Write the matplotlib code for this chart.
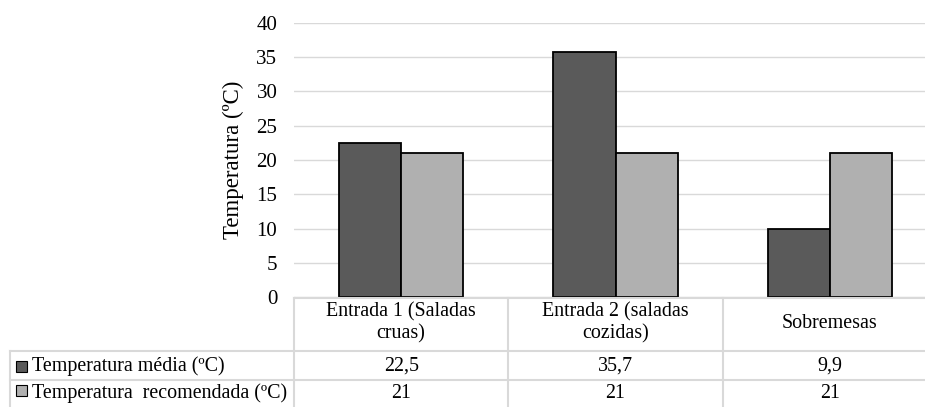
import matplotlib.pyplot as plt
import matplotlib.transforms as mtransforms
from matplotlib.lines import Line2D
from matplotlib.patches import Rectangle
import numpy as np

plt.rcParams['font.family'] = ['Liberation Serif', 'DejaVu Serif']

categories = ['Entrada 1 (Saladas\ncruas)', 'Entrada 2 (saladas\ncozidas)', 'Sobremesas']
series_names = ['Temperatura média (ºC)', 'Temperatura  recomendada (ºC)']
media = [22.5, 35.7, 9.9]
recomendada = [21, 21, 21]
media_labels = ['22,5', '35,7', '9,9']
recomendada_labels = ['21', '21', '21']
colors = ['#5a5a5a', '#b0b0b0']

W, H = 925, 407
fs = 14.4
fig = plt.figure(figsize=(W / 100, H / 100), dpi=100)
ax = fig.add_axes([294 / W, (H - 297) / H, (W - 294) / W, (297 - 23) / H])

x = np.arange(len(categories))
bw = 0.29
ax.bar(x - bw / 2, media, bw, color=colors[0], edgecolor='black', linewidth=1.3, zorder=3)
ax.bar(x + bw / 2, recomendada, bw, color=colors[1], edgecolor='black', linewidth=1.3, zorder=3)

ax.set_ylim(0, 40)
ax.set_yticks(range(0, 41, 5))
ax.set_xlim(-0.5, 2.5 - 12 / 214)
ax.set_xticks([])
ax.grid(axis='y', color='#d9d9d9', linewidth=1, zorder=0)
for s in ax.spines.values():
    s.set_visible(False)
ax.tick_params(axis='y', length=0, pad=12, labelsize=15)
ax.set_ylabel('Temperatura (ºC)', fontsize=16.5, labelpad=9)

# data table below the plot
tr = mtransforms.blended_transform_factory(ax.transData, fig.transFigure)
ftr = fig.transFigure
py = lambda p: 1 - p / H
gc = '#d9d9d9'
xr = ax.get_xlim()[1]

def hline(y, x0_fig=None):
    if x0_fig is None:
        fig.add_artist(Line2D([-0.5, xr], [py(y), py(y)], transform=tr, color=gc, lw=1.5))
    else:
        fig.add_artist(Line2D([x0_fig, 1], [py(y), py(y)], transform=ftr, color=gc, lw=1.5))

hline(297.5)
hline(351, 10 / W)
hline(380, 10 / W)
for b in [-0.5, 0.5, 1.5]:
    fig.add_artist(Line2D([b, b], [py(297.5), 0], transform=tr, color=gc, lw=1.5))
fig.add_artist(Line2D([10 / W, 10 / W], [py(351), 0], transform=ftr, color=gc, lw=1.5))

for i, c in enumerate(categories):
    fig.text(x[i], py(323), c, transform=tr, ha='center', va='center', fontsize=fs, linespacing=1.22)
    fig.text(x[i], py(366), media_labels[i], transform=tr, ha='center', va='center', fontsize=fs)
    fig.text(x[i], py(393), recomendada_labels[i], transform=tr, ha='center', va='center', fontsize=fs)

for name, col, yc in zip(series_names, colors, [366, 390]):
    fig.add_artist(Rectangle((16 / W, py(yc + 5.5)), 11 / W, 11 / H, transform=ftr,
                             facecolor=col, edgecolor='black', lw=0.8))
for name, yc in zip(series_names, [366, 393]):
    fig.text(32 / W, py(yc), name, transform=ftr, ha='left', va='center', fontsize=fs)

fig.savefig('out.png', dpi=100)
